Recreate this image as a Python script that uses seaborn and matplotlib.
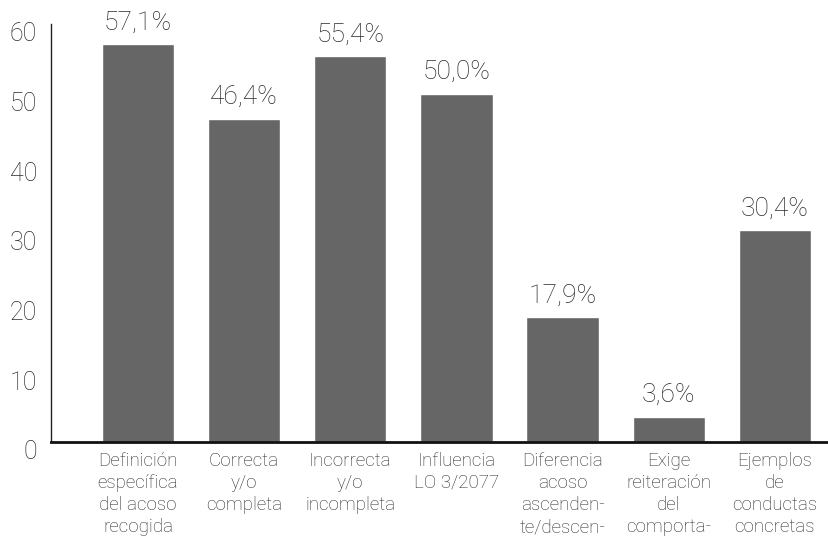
import numpy as np
import pandas as pd
import matplotlib.pyplot as plt
import matplotlib.transforms as mtransforms
import seaborn as sns

# Data (last label lines are cut at the bottom in the reference)
categories = [
    'Definición\nespecífica\ndel acoso\nrecogida',
    'Correcta\ny/o\ncompleta',
    'Incorrecta\ny/o\nincompleta',
    'Influencia\nLO 3/2077',
    'Diferencia\nacoso\nascenden-\nte/descen-',
    'Exige\nreiteración\ndel\ncomporta-',
    'Ejemplos\nde\nconductas\nconcretas',
]
values = [57.1, 46.4, 55.4, 50.0, 17.9, 3.6, 30.4]
value_labels = ['57,1%', '46,4%', '55,4%', '50,0%', '17,9%', '3,6%', '30,4%']
y_ticks = [0, 10, 20, 30, 40, 50, 60]

df = pd.DataFrame({'categoria': categories, 'valor': values})

sns.set_style('white')
plt.rcParams['font.family'] = ['Roboto', 'DejaVu Sans']
plt.rcParams['font.weight'] = 'light'
text_color = '#2b2b2b'

fig = plt.figure(figsize=(8.29, 5.40), dpi=100)
ax = fig.add_axes([0.0615, 0.1815, 0.9385, 0.7741])

sns.barplot(data=df, x='categoria', y='valor', color='#666666',
            saturation=1, width=0.68, ax=ax)

# value labels above bars
for i, (v, lab) in enumerate(zip(values, value_labels)):
    ax.annotate(lab, xy=(i, v), xytext=(0, 7), textcoords='offset points',
                ha='center', va='bottom', fontsize=19, color=text_color,
                fontweight='light', annotation_clip=False)

ax.set_xlim(-0.82, 6.51)
ax.set_ylim(0, 60)
ax.set_yticks(y_ticks)
ax.set_xlabel('')
ax.set_ylabel('')

for s in ['top', 'right']:
    ax.spines[s].set_visible(False)
ax.spines['left'].set_color('#222222')
ax.spines['left'].set_linewidth(1.0)
ax.spines['bottom'].set_color('#111111')
ax.spines['bottom'].set_linewidth(2.0)

ax.tick_params(axis='y', direction='in', length=14, width=1, color='#222222',
               pad=10, labelsize=18, labelcolor=text_color)
ax.tick_params(axis='x', length=0, pad=7, labelsize=13.5, labelcolor=text_color)
for lab in ax.get_xticklabels():
    lab.set_linespacing(1.3)
    lab.set_ha('center')

# y labels sit a little lower than their ticks
offset = mtransforms.ScaledTranslation(0, -8 / 100, fig.dpi_scale_trans)
for lab in ax.get_yticklabels():
    lab.set_transform(lab.get_transform() + offset)

ax.grid(False)
fig.savefig('out.png', dpi=100)
